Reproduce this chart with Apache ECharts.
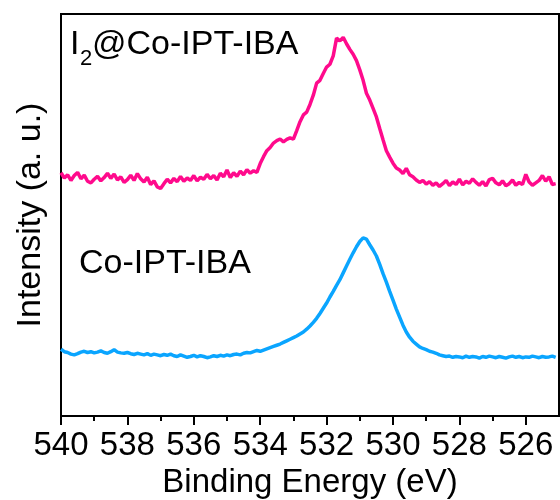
<!DOCTYPE html>
<html>
<head>
<meta charset="utf-8">
<script src="https://cdn.jsdelivr.net/npm/echarts@6/dist/echarts.min.js"></script>
<style>
html,body{margin:0;padding:0;background:#fff;}
#main{width:560px;height:500px;}
</style>
</head>
<body>
<div id="main"></div>
<script>
// binding energy grid (eV), 0.1 eV step from 540 down
var eStart = 540, eStep = 0.1;
var majorTicks = [540, 538, 536, 534, 532, 530, 528, 526];
var minorTicks = [539, 537, 535, 533, 531, 529, 527];

// I2@Co-IPT-IBA (offset up)
var pinkVals = [
60.5,59.2,60.0,58.6,59.8,60.6,59.0,59.9,58.4,58.0,
58.9,59.6,58.5,59.3,60.4,59.1,60.2,58.7,59.5,58.1,
58.8,59.9,58.6,60.3,59.0,58.2,59.4,57.6,58.5,57.0,
56.6,57.8,58.9,58.0,59.1,58.3,59.6,58.4,59.2,58.6,
59.8,58.5,59.4,58.9,60.1,59.0,59.8,58.7,60.4,59.5,
61.2,59.3,60.5,59.6,60.9,60.0,61.3,60.4,61.0,60.6,
62.8,64.5,66.0,66.8,67.9,68.5,68.9,68.2,68.8,69.2,
68.9,71.0,73.2,74.9,75.6,77.5,79.8,82.8,83.5,85.2,
86.8,87.5,89.6,94.0,93.3,94.2,92.6,91.2,90.0,88.4,
86.1,83.5,80.3,78.6,76.5,74.4,71.5,68.7,66.0,64.4,
62.9,61.7,61.2,60.3,61.6,60.0,59.5,58.7,58.1,58.6,
57.7,58.3,57.4,58.0,57.1,57.8,58.6,57.3,58.2,57.6,
58.9,57.5,58.4,57.9,59.0,58.1,57.4,58.3,57.2,58.8,
59.1,58.0,57.5,58.5,57.3,57.8,58.7,57.4,58.1,57.6,
60.1,58.2,57.4,58.0,58.6,59.8,58.4,59.5,57.6,57.8
];
// Co-IPT-IBA
var blueVals = [
16.6,16.0,15.8,15.4,15.2,15.5,15.9,16.1,15.8,16.0,
15.7,15.9,16.2,15.8,15.6,16.0,16.5,15.9,15.7,15.6,
15.8,15.5,15.3,15.6,15.4,15.2,15.5,15.1,15.4,15.2,
15.0,15.3,15.1,15.4,15.0,14.8,15.2,14.9,14.6,14.8,
15.1,14.7,15.0,14.8,14.5,14.7,15.0,14.8,15.1,14.9,
15.2,15.0,15.3,15.4,15.2,15.6,15.8,15.7,16.0,16.3,
16.1,16.4,16.7,17.0,17.3,17.6,17.9,18.3,18.7,19.1,
19.5,19.9,20.4,20.9,21.6,22.4,23.3,24.3,25.5,26.8,
28.1,29.6,31.0,32.5,33.9,35.6,37.3,39.0,40.6,42.1,
43.4,44.3,44.0,42.6,41.3,39.8,37.7,35.4,33.3,31.0,
28.8,26.6,24.6,22.6,20.9,19.6,18.6,17.9,17.2,16.8,
16.5,16.1,15.9,15.6,15.2,15.0,14.8,14.9,14.6,14.8,
14.7,14.5,14.9,14.6,14.8,14.7,14.4,14.8,14.6,14.9,
14.7,14.5,14.8,14.6,14.4,14.7,14.9,14.6,14.8,14.5,
14.7,14.6,14.9,14.7,14.5,14.8,14.6,14.7,14.9,14.6
];

function pairs(vals) {
	var out = [];
	for(var i = 0; i < vals.length; i++) {
		out.push([+(eStart - i * eStep).toFixed(1), vals[i]]);
	}
	return out;
}

var font = 'Liberation Sans, Arial, sans-serif';
var myChart = echarts.init(document.getElementById('main'));
var option = {
	animation: false,
	backgroundColor: '#fff',
	grid: {
		left: 61, right: 1, top: 14, bottom: 84,
		outerBoundsMode: 'none', containLabel: false,
		show: true, borderColor: '#000', borderWidth: 2, backgroundColor: 'transparent'
	},
	xAxis: [{
		type: 'value', inverse: true, min: 525, max: 540,
		name: 'Binding Energy (eV)', nameLocation: 'middle', nameGap: 48,
		nameTextStyle: { fontSize: 33, color: '#000', fontFamily: font },
		axisLine: { show: true, onZero: false, lineStyle: { color: '#000', width: 2 } },
		axisTick: { show: true, customValues: majorTicks, length: 9, lineStyle: { color: '#000', width: 2 } },
		axisLabel: { customValues: majorTicks, fontSize: 33, color: '#000', margin: 13, fontFamily: font },
		splitLine: { show: false }
	}, {
		type: 'value', inverse: true, min: 525, max: 540, position: 'bottom',
		axisLine: { show: false },
		axisTick: { show: true, customValues: minorTicks, length: 5, lineStyle: { color: '#000', width: 2 } },
		axisLabel: { show: false },
		splitLine: { show: false }
	}],
	yAxis: {
		type: 'value', min: 0, max: 100,
		name: 'Intensity (a. u.)', nameLocation: 'middle', nameGap: 13,
		nameTextStyle: { fontSize: 34, color: '#000', fontFamily: font },
		axisLine: { show: true, lineStyle: { color: '#000', width: 2 } },
		axisTick: { show: false },
		axisLabel: { show: false },
		splitLine: { show: false }
	},
	graphic: [
		{ type: 'text', left: 70, top: 28, style: { text: 'I', fontSize: 34, fill: '#000', fontFamily: font } },
		{ type: 'text', left: 80, top: 48, style: { text: '2', fontSize: 22, fill: '#000', fontFamily: font } },
		{ type: 'text', left: 92, top: 28, style: { text: '@Co-IPT-IBA', fontSize: 34, fill: '#000', fontFamily: font } },
		{ type: 'text', left: 79, top: 247, style: { text: 'Co-IPT-IBA', fontSize: 34, fill: '#000', fontFamily: font } }
	],
	series: [{
		name: 'I2@Co-IPT-IBA', type: 'line', showSymbol: false,
		data: pairs(pinkVals),
		lineStyle: { color: '#FF0A8C', width: 3.5 }
	}, {
		name: 'Co-IPT-IBA', type: 'line', showSymbol: false,
		data: pairs(blueVals),
		lineStyle: { color: '#0AA5FF', width: 3.5 }
	}]
};
myChart.setOption(option);
</script>
</body>
</html>
